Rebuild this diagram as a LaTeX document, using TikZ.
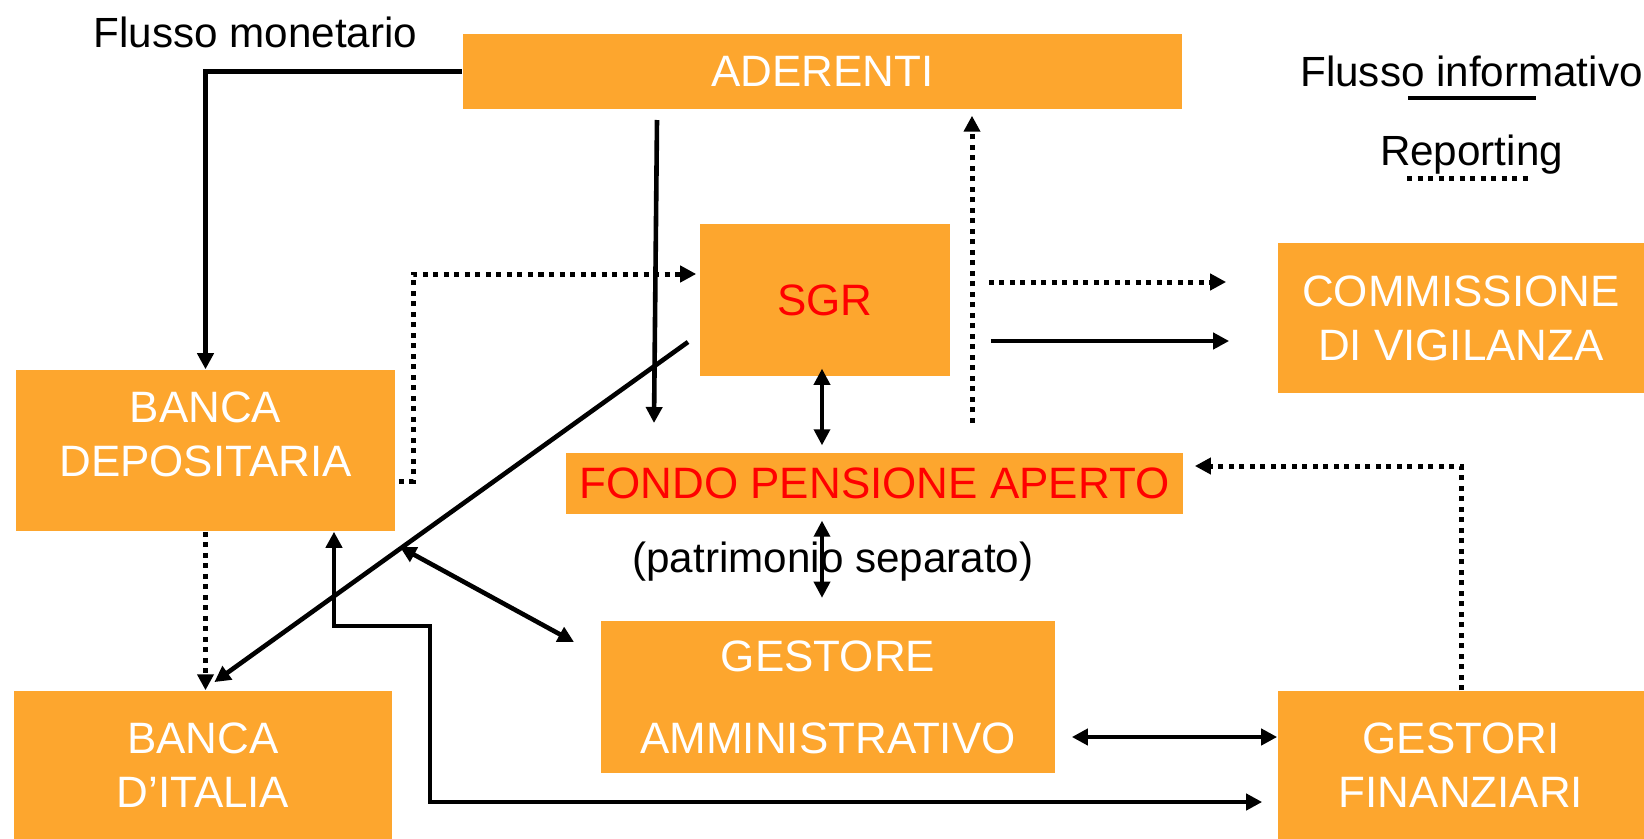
\documentclass[tikz,border=0pt]{standalone}
\usepackage{fontspec}
\setmainfont{Liberation Sans}
\usetikzlibrary{arrows.meta}
\definecolor{boxorange}{RGB}{253,166,46}

\begin{document}
\begin{tikzpicture}[x=0.01cm,y=-0.01cm,>={Triangle[length=0.16cm,width=0.16cm]},
  box/.style={fill=boxorange,text=white,align=center,inner sep=0pt,font=\fontsize{12.5}{15.4}\selectfont},
  lbl/.style={font=\fontsize{12}{14}\selectfont,anchor=base},
  flow/.style={line width=0.046cm},
  dbl/.style={line width=0.035cm},
  rep/.style={line width=0.05cm,dash pattern=on 0.05cm off 0.055cm}]
\useasboundingbox (0,0) rectangle (1644,839);

\node[box,minimum width=7.19cm,minimum height=0.75cm] (aderenti) at (822.5,71.5) {ADERENTI};
\node[box,text=red,minimum width=2.5cm,minimum height=1.52cm] (sgr) at (825,300) {SGR};
\node[box,minimum width=3.66cm,minimum height=1.5cm] (commissione) at (1461,318) {COMMISSIONE\\DI VIGILANZA};
\node[box,minimum width=3.79cm,minimum height=1.61cm,text depth=0.32cm] (dep) at (205.5,450.5) {BANCA\\DEPOSITARIA};
\node[box,text=red,minimum width=6.17cm,minimum height=0.61cm] (fondo) at (874.5,483.5) {FONDO PENSIONE APERTO};
\node[box,minimum width=4.54cm,minimum height=1.51cm] (gestore) at (828,697) {GESTORE\\[0.28cm]AMMINISTRATIVO};
\node[box,minimum width=3.78cm,minimum height=1.48cm] (italia) at (203,765) {BANCA\\D’ITALIA};
\node[box,minimum width=3.66cm,minimum height=1.48cm] (gestori) at (1461,765) {GESTORI\\FINANZIARI};

% legenda
\node[lbl] (monetario) at (255.5,47) {Flusso monetario};
\node[lbl] (informativo) at (1471.5,86) {Flusso informativo};
\node[lbl] (reporting) at (1471.5,165) {Reporting};
\node[lbl] (patrimonio) at (833,572) {(patrimonio separato)};
\coordinate (ls1) at (1408,98);
\coordinate (ls2) at (1536,98);
\coordinate (lr1) at (1407,178);
\coordinate (lr2) at (1529,178);
\draw[flow] (ls1) -- (ls2);
\draw[rep] (lr1) -- (lr2);

% flussi
\draw[flow,->] (aderenti.west) -| (dep.north);
\coordinate (a1) at (657,120);
\coordinate (a2) at (654,423);
\draw[flow,->] (a1) -- (a2);
\coordinate (rp) at (972,423);
\draw[rep,->,shorten >=0.06cm] (rp) -- (rp |- aderenti.south);
\draw[rep,->,shorten <=0.03cm,shorten >=0.03cm] (dep.east |- 0,481) -| (413,274) -- (sgr.west |- 0,274);
\draw[rep,->,shorten <=0.38cm,shorten >=0.51cm] (sgr.east |- 0,282) -- (commissione.west |- 0,282);
\draw[flow,->,shorten <=0.40cm,shorten >=0.48cm] (sgr.east |- 0,341) -- (commissione.west |- 0,341);
\draw[dbl,<->,shorten <=-0.08cm,shorten >=0.07cm] (sgr.south -| 822,0) -- (fondo.north -| 822,0);
\draw[dbl,<->,shorten <=0.06cm,shorten >=0.23cm] (fondo.south -| 822,0) -- (gestore.north -| 822,0);
\coordinate (d1) at (688,342);
\draw[flow,->,shorten >=0.14cm] (d1) -- (italia.north);
\draw[rep,->] (dep.south) -- (dep.south |- italia.north);
\coordinate (g1) at (400,547);
\coordinate (g2) at (574,642);
\draw[flow,<->] (g1) -- (g2);
\draw[flow,<->,shorten >=0.15cm] (dep.south -| 334,0) |- (430,626) |- (gestori.west |- 0,802);
\draw[flow,<->,shorten <=0.16cm] (gestore.east |- 0,737) -- (gestori.west |- 0,737);
\draw[rep,->,shorten >=0.11cm] (gestori.north) |- (fondo.east |- 0,466);
\end{tikzpicture}
\end{document}
